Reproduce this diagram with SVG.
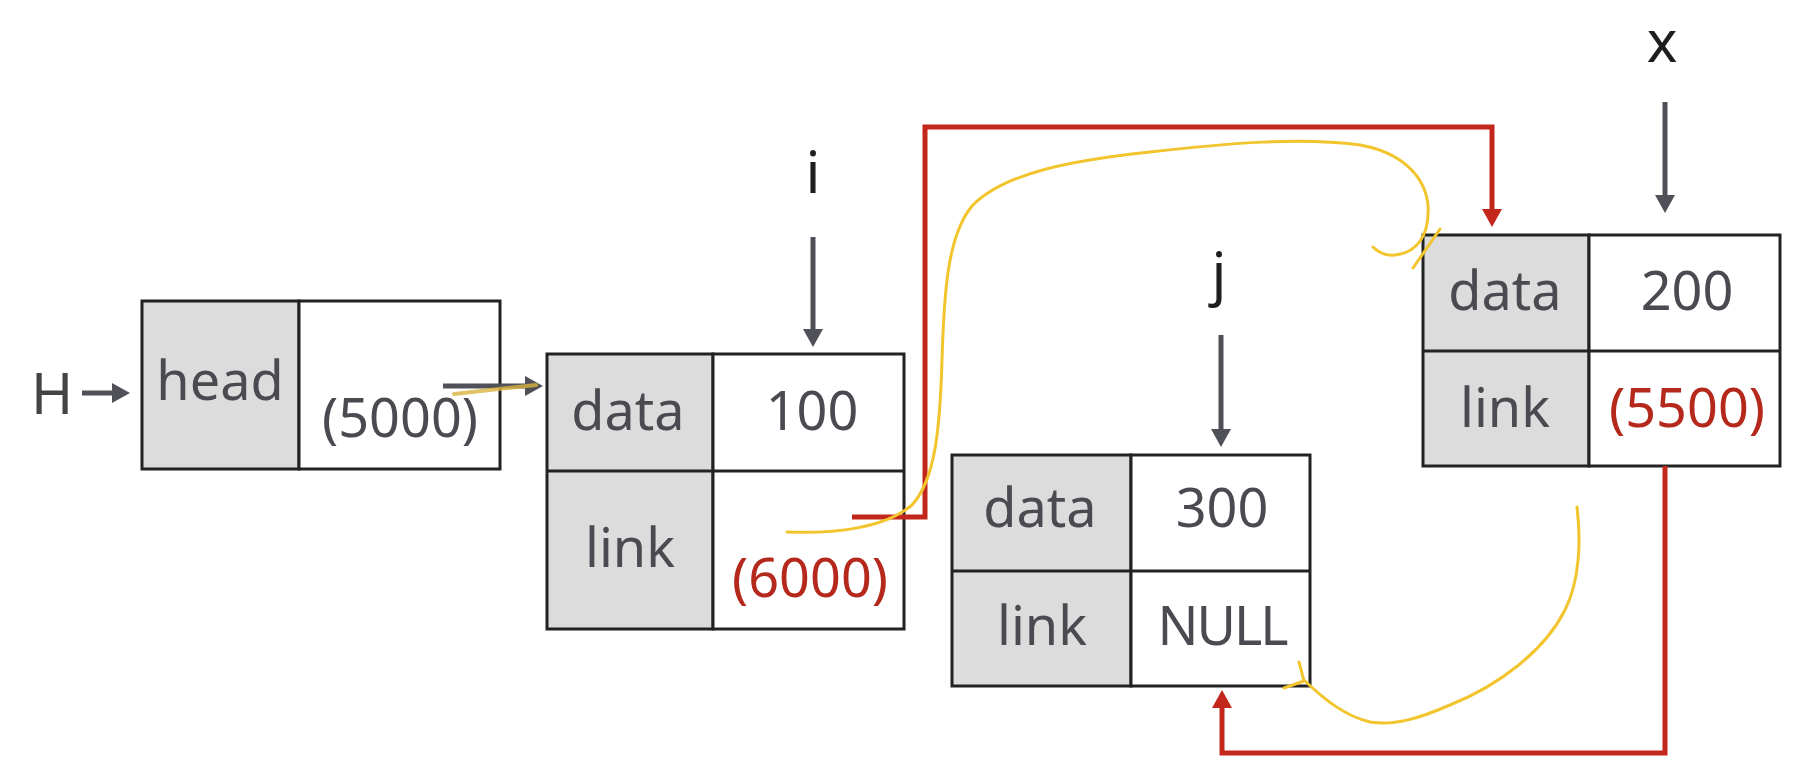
<svg xmlns="http://www.w3.org/2000/svg" width="1814" height="784" viewBox="0 0 1814 784">
<style>
.box{fill:#ffffff;stroke:#222;stroke-width:3}
.key{fill:#dddcdd;stroke:#222;stroke-width:3}
.t{font-family:"Noto Sans","Liberation Sans",sans-serif;font-size:54px;fill:#4a4a50;text-anchor:middle}
.red{fill:#b5281c}
.lbl{font-family:"Noto Sans","Liberation Sans",sans-serif;font-size:58px;fill:#1e1e1e;text-anchor:middle}
.ptr{stroke:#505058;stroke-width:5;fill:none}
.rc{stroke:#c3261a;stroke-width:5;fill:none;stroke-linejoin:miter}
.yl{stroke:#f2c52e;stroke-width:3;fill:none;stroke-linecap:round;stroke-linejoin:round}
</style>
<defs>
<marker id="ag" viewBox="0 0 20 20" refX="0" refY="10" markerWidth="20" markerHeight="20" markerUnits="userSpaceOnUse" orient="auto">
<path d="M0,0 L18,10 L0,20 z" fill="#505058"/>
</marker>
<marker id="ar" viewBox="0 0 20 20" refX="0" refY="10" markerWidth="20" markerHeight="20" markerUnits="userSpaceOnUse" orient="auto">
<path d="M0,0 L18,10 L0,20 z" fill="#c3261a"/>
</marker>
</defs>
<rect width="1814" height="784" fill="#ffffff"/>

<g id="label-H">
<text class="t" x="52" y="414" style="font-size:57px;fill:#444">H</text>
</g>
<g id="label-i"><text class="lbl" x="813" y="193">i</text></g>
<g id="label-j"><text class="lbl" x="1219" y="294">j</text></g>
<g id="label-x"><text class="lbl" x="1662" y="62">x</text></g>

<g id="node-head">
<rect class="key" x="142" y="301" width="157" height="168"/>
<rect class="box" x="299" y="301" width="201" height="168"/>
<text class="t" x="220" y="400">head</text>
<text class="t" x="400" y="437">(5000)</text>
</g>

<g id="node-100">
<rect class="key" x="547" y="354" width="166" height="275"/>
<rect class="box" x="713" y="354" width="191" height="275"/>
<line x1="547" y1="471" x2="904" y2="471" stroke="#222" stroke-width="3"/>
<text class="t" x="628" y="430">data</text>
<text class="t" x="812" y="430">100</text>
<text class="t" x="630" y="567">link</text>
<text class="t red" x="810" y="597">(6000)</text>
</g>

<g id="node-300">
<rect class="key" x="952" y="455" width="179" height="231"/>
<rect class="box" x="1131" y="455" width="179" height="231"/>
<line x1="952" y1="571" x2="1310" y2="571" stroke="#222" stroke-width="3"/>
<text class="t" x="1040" y="527">data</text>
<text class="t" x="1222" y="527">300</text>
<text class="t" x="1042" y="645">link</text>
<text class="t" x="1222" y="645" letter-spacing="-2">NULL</text>
</g>

<g id="node-200">
<rect class="key" x="1423" y="235" width="166" height="231"/>
<rect class="box" x="1589" y="235" width="191" height="231"/>
<line x1="1423" y1="351" x2="1780" y2="351" stroke="#222" stroke-width="3"/>
<text class="t" x="1505" y="310">data</text>
<text class="t" x="1687" y="310">200</text>
<text class="t" x="1505" y="427">link</text>
<text class="t red" x="1687" y="427">(5500)</text>
</g>

<g id="connectors">
<path class="ptr" d="M82,393 H112" marker-end="url(#ag)"/>
<path class="ptr" d="M443,386 H525" marker-end="url(#ag)"/>
<path class="ptr" d="M813,237 V329" marker-end="url(#ag)"/>
<path class="ptr" d="M1221,335 V429" marker-end="url(#ag)"/>
<path class="ptr" d="M1665,102 V195" marker-end="url(#ag)"/>
<path class="rc" d="M852,517 H925 V127 H1492 V209" marker-end="url(#ar)"/>
<path class="rc" d="M1665,466 V753 H1222 V708" marker-end="url(#ar)"/>
<path class="yl" d="M454,394 L536,385" style="stroke:#d8b440;stroke-width:4;opacity:0.8"/>
<path class="yl" d="M787,532 C835,534 885,528 912,505 C935,480 940,430 942,360 C944,290 948,235 972,206 C1005,172 1075,160 1150,152 C1230,143 1300,137 1360,145 C1400,152 1425,175 1428,205 C1430,238 1415,253 1395,255 C1385,256 1378,252 1373,247"/>
<path class="yl" d="M1413,268 L1440,229"/>
<path class="yl" d="M1577,507 C1581,540 1580,580 1565,610 C1545,650 1500,685 1450,705 C1420,718 1395,726 1370,722 C1345,716 1325,700 1305,681"/>
<path class="yl" d="M1284,688 L1304,681 M1299,662 L1304,681"/>
</g>
</svg>
